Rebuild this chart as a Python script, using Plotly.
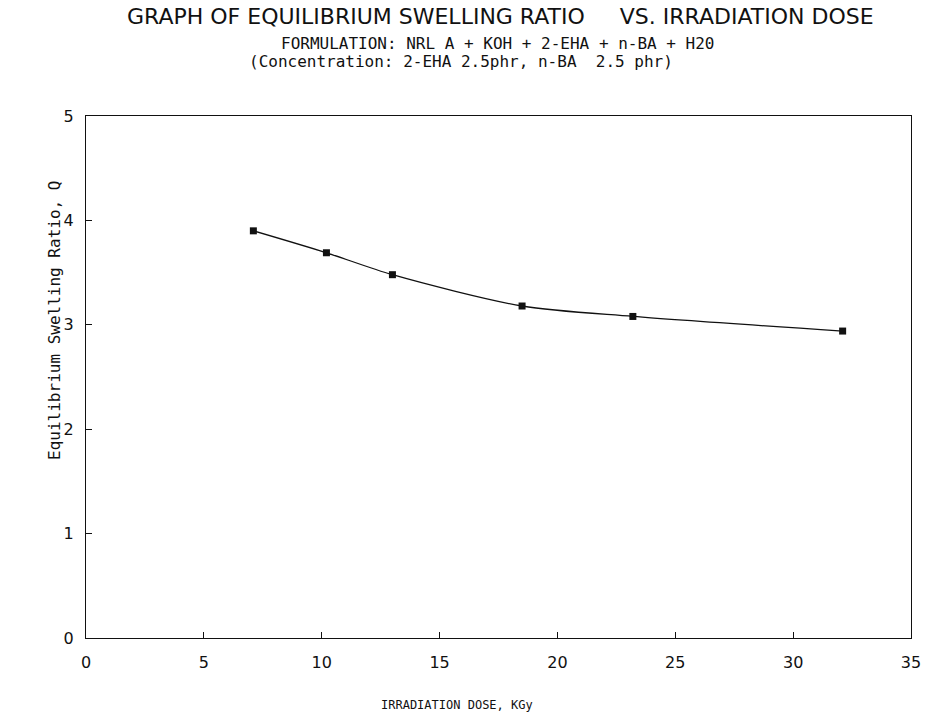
import plotly.graph_objects as go

# Irradiation dose (kGy) and equilibrium swelling ratio Q
dose = [7.1, 10.2, 13.0, 18.5, 23.2, 32.1]
swelling_ratio = [3.90, 3.69, 3.48, 3.18, 3.08, 2.94]

x_ticks = [0, 5, 10, 15, 20, 25, 30, 35]
y_ticks = [0, 1, 2, 3, 4, 5]

FONT = "DejaVu Sans"
MONO = "DejaVu Sans Mono"
INK = "#111111"

fig = go.Figure()
fig.add_trace(go.Scatter(
    x=dose,
    y=swelling_ratio,
    mode="lines+markers",
    line=dict(color=INK, width=1.3, shape="spline", smoothing=0.8),
    marker=dict(symbol="square", size=7, color=INK),
    showlegend=False,
    hoverinfo="skip",
))

axis_common = dict(
    showgrid=False,
    zeroline=False,
    showline=True,
    mirror=True,
    linecolor=INK,
    linewidth=1.4,
    ticks="inside",
    ticklen=6,
    tickwidth=1.2,
    tickcolor=INK,
    tickfont=dict(family=FONT, size=16, color=INK),
)

fig.update_xaxes(
    range=[0, 35],
    tickmode="array",
    tickvals=x_ticks,
    ticktext=[str(v) for v in x_ticks],
    ticklabelstandoff=10,
    **axis_common,
)
fig.update_yaxes(
    range=[0, 5],
    tickmode="array",
    tickvals=y_ticks,
    ticktext=[str(v) for v in y_ticks],
    ticklabelstandoff=8,
    **axis_common,
)

NB = "\u00a0"
annotations = [
    dict(text="GRAPH OF EQUILIBRIUM SWELLING RATIO" + NB * 5 + "VS. IRRADIATION DOSE",
         x=0.502, y=1.190, font=dict(family=FONT, size=22, color=INK)),
    dict(text="FORMULATION: NRL A + KOH + 2-EHA + n-BA + H20",
         x=0.499, y=1.138, font=dict(family=MONO, size=16, color=INK)),
    dict(text="(Concentration: 2-EHA 2.5phr, n-BA" + NB * 2 + "2.5 phr)",
         x=0.455, y=1.105, font=dict(family=MONO, size=16, color=INK)),
    dict(text="IRRADIATION DOSE, KGy",
         x=0.450, y=-0.128, font=dict(family=MONO, size=12, color=INK)),
    dict(text="Equilibrium Swelling Ratio, Q",
         x=-0.039, y=0.609, textangle=-90, font=dict(family=MONO, size=16, color=INK)),
]
for a in annotations:
    a.update(xref="paper", yref="paper", showarrow=False, xanchor="center", yanchor="middle")

fig.update_layout(
    width=934,
    height=714,
    margin=dict(l=86, r=23, t=116, b=76),
    paper_bgcolor="white",
    plot_bgcolor="white",
    annotations=annotations,
)

fig.write_html("out.html")
